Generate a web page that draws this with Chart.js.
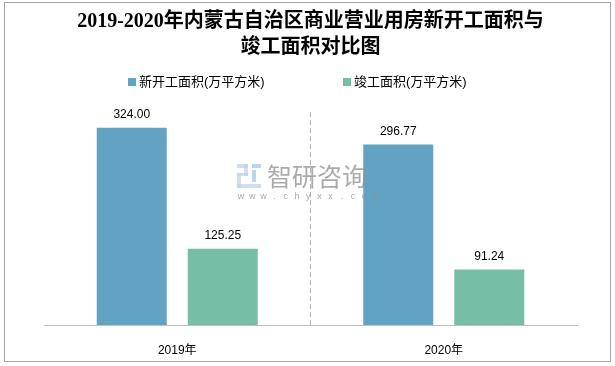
<!DOCTYPE html>
<html><head><meta charset="utf-8">
<script src="https://cdn.jsdelivr.net/npm/chart.js@4.4.1/dist/chart.umd.min.js"></script>
<style>html,body{margin:0;padding:0;background:#fff}canvas{display:block}</style>
</head><body>
<canvas id="c" width="615" height="366"></canvas>
<script>
const titleLines = ['2019-2020年内蒙古自治区商业营业用房新开工面积与', '竣工面积对比图'];
const categories = ['2019年', '2020年'];
const seriesNames = ['新开工面积(万平方米)', '竣工面积(万平方米)'];
const newStartArea = [324.00, 296.77];
const completedArea = [125.25, 91.24];
const yMin = 0, yMax = 350;
const colors = ['#62A3C4', '#76BFA6'];
const sansFont = '"Liberation Sans", "Noto Sans CJK SC", sans-serif';

const decorPlugin = {
  id: 'decor',
  afterDatasetsDraw(chart) {
    const ctx = chart.ctx;
    ctx.save();
    ctx.fillStyle = '#000';
    ctx.font = '12px ' + sansFont;
    ctx.textAlign = 'center';
    ctx.textBaseline = 'middle';
    chart.data.datasets.forEach((ds, di) => {
      chart.getDatasetMeta(di).data.forEach((bar, i) => {
        ctx.fillText(ds.data[i].toFixed(2), bar.x, bar.y - 13);
      });
    });
    ctx.restore();
    ctx.save();
    ctx.globalAlpha = 0.75;
    ctx.fillStyle = '#c3d3e6';
    ctx.fillRect(237, 164, 11, 4);
    ctx.fillRect(244, 164, 4, 12);
    ctx.fillRect(237, 173, 11, 3);
    ctx.fillRect(237, 173, 4, 15);
    ctx.fillRect(237, 184, 24, 4);
    ctx.fillStyle = '#a9c6e3';
    ctx.fillRect(252, 164, 9, 4);
    ctx.fillRect(252, 170, 4, 12);
    ctx.fillStyle = '#8f8f8f';
    ctx.font = '25px "Noto Sans CJK SC", sans-serif';
    ctx.textAlign = 'left';
    ctx.textBaseline = 'middle';
    ctx.fillText('智研咨询', 267, 176);
    ctx.font = '9px ' + sansFont;
    ctx.textAlign = 'center';
    const w = 'www.chyxx.com';
    for (let i = 0; i < w.length; i++) ctx.fillText(w[i], 241 + i * 11.2, 197);
    ctx.restore();
  },
  afterDraw(chart) {
    const ctx = chart.ctx;
    ctx.save();
    ctx.font = '13px ' + sansFont;
    ctx.textBaseline = 'middle';
    ctx.textAlign = 'left';
    const starts = [128, 343];
    seriesNames.forEach((n, i) => {
      ctx.fillStyle = colors[i];
      ctx.fillRect(starts[i], 78, 8, 8);
      ctx.fillStyle = '#000';
      ctx.fillText(n, starts[i] + 11, 82);
    });
    ctx.strokeStyle = '#a6a6a6';
    ctx.lineWidth = 1;
    ctx.strokeRect(4.5, 2.5, 606, 359);
    ctx.restore();
  }
};

new Chart(document.getElementById('c'), {
  type: 'bar',
  data: {
    labels: categories,
    datasets: [
      { label: seriesNames[0], data: newStartArea, backgroundColor: colors[0] },
      { label: seriesNames[1], data: completedArea, backgroundColor: colors[1] }
    ]
  },
  options: {
    responsive: false,
    animation: false,
    devicePixelRatio: 1,
    categoryPercentage: 0.683,
    barPercentage: 0.769,
    layout: { padding: { left: 44, right: 38, top: 0, bottom: 0 } },
    plugins: {
      legend: { display: false },
      tooltip: { enabled: false },
      title: {
        display: true,
        text: titleLines,
        color: '#000',
        font: { family: '"Liberation Serif", "Noto Sans CJK SC", serif', size: 20, weight: 'bold', lineHeight: 1.3 },
        padding: { top: 9, bottom: 51 }
      }
    },
    scales: {
      x: {
        afterFit: s => { s.height = 41; },
        grid: {
          offset: true,
          drawTicks: false,
          color: c => c.index === 1 ? '#b4b4b4' : 'rgba(0,0,0,0)',
          lineWidth: 1
        },
        border: { display: true, color: '#bfbfbf', width: 1, dash: [5, 3] },
        ticks: { color: '#000', font: { family: sansFont, size: 12 }, padding: 18 }
      },
      y: { display: false, min: yMin, max: yMax }
    }
  },
  plugins: [decorPlugin]
});
</script>
</body></html>
